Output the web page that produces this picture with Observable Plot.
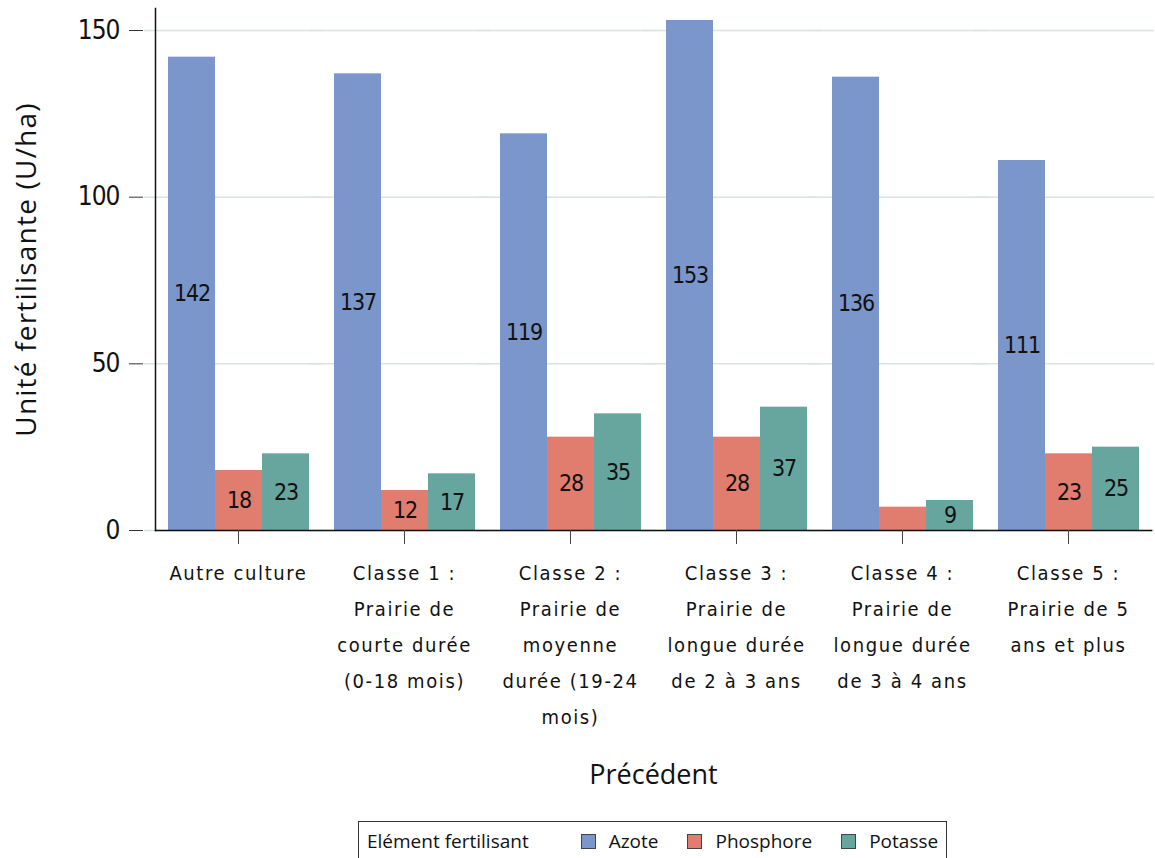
<!DOCTYPE html>
<html lang="fr">
<head>
<meta charset="utf-8">
<script src="https://cdn.jsdelivr.net/npm/d3@7"></script>
<script src="https://cdn.jsdelivr.net/npm/@observablehq/plot@0.6"></script>
<style>
  html, body { margin: 0; padding: 0; background: #fff; }
  body { width: 1155px; height: 858px; overflow: hidden; position: relative; }
  #chart svg { display: block; }
  #chart g[aria-label="y-axis tick label"] text {
    font-family: "DejaVu Sans Condensed", sans-serif;
    font-size: 26px; letter-spacing: -1px; fill: #111;
  }
  #chart g[aria-label="y-axis label"] text {
    font-family: "Open Sans", sans-serif; font-size: 28px; letter-spacing: 1.2px; fill: #111;
  }
  #chart g[aria-label="fx-axis tick label"] text {
    font-family: "DejaVu Sans Condensed", sans-serif;
    font-size: 20px; letter-spacing: 1.6px; fill: #111;
  }
  #chart g[aria-label="fx-axis label"] text {
    font-family: "Open Sans", sans-serif; font-size: 27px; fill: #111;
  }
  #chart g[aria-label="text"] text {
    font-family: "DejaVu Sans Condensed", sans-serif;
    font-size: 23px; letter-spacing: -1.2px; fill: #111;
  }
  #legend {
    position: absolute; left: 358px; top: 821px; width: 589px; height: 44px;
    box-sizing: border-box; border: 1px solid #333; background: #fff;
    display: flex; align-items: flex-start; padding: 6px 0 0 8px;
    font-family: "Open Sans", sans-serif; font-size: 19px; color: #111;
    white-space: nowrap;
  }
  #legend > span { flex: none; }
  #legend .title { margin-right: 52px; }
  #legend .item { display: flex; align-items: center; margin-right: 29px; }
  #legend .swatch { width: 15px; height: 15px; border: 1px solid #444; margin-right: 13px; box-sizing: border-box; }
</style>
</head>
<body>
<div id="chart"></div>
<div id="legend"></div>
<script>
// Précédent cultural classes (x facets) and their axis labels
const categories = ["Autre culture", "Classe 1", "Classe 2", "Classe 3", "Classe 4", "Classe 5"];
const tickLabels = [
  "Autre culture",
  "Classe 1 :\nPrairie de\ncourte durée\n(0-18 mois)",
  "Classe 2 :\nPrairie de\nmoyenne\ndurée (19-24\nmois)",
  "Classe 3 :\nPrairie de\nlongue durée\nde 2 à 3 ans",
  "Classe 4 :\nPrairie de\nlongue durée\nde 3 à 4 ans",
  "Classe 5 :\nPrairie de 5\nans et plus"
];

// Fertilising elements and their colours
const elements = ["Azote", "Phosphore", "Potasse"];
const colors = ["#7b96cb", "#e07d6e", "#66a69f"];

// Units per hectare, one value per category
const azote = [142, 137, 119, 153, 136, 111];
const phosphore = [18, 12, 28, 28, 7, 23];
const potasse = [23, 17, 35, 37, 9, 25];

const yTicks = [0, 50, 100, 150];

const series = [azote, phosphore, potasse];
const rows = categories.flatMap((category, i) =>
  elements.map((element, j) => ({category, element, value: series[j][i]}))
);

const chart = Plot.plot({
  width: 1155,
  height: 816,
  marginLeft: 142,
  marginRight: 0,
  marginTop: 8,
  marginBottom: 286,
  fx: {domain: categories, padding: 0, insetLeft: 12, insetRight: 3},
  x: {domain: elements, paddingInner: 0, paddingOuter: 0.25, axis: null},
  y: {domain: [0, 156.6]},
  color: {domain: elements, range: colors},
  marks: [
    // horizontal gridlines, stretched a little so they meet the y axis line
    Plot.gridY(yTicks, {stroke: "#d9e4e2", strokeOpacity: 1, strokeWidth: 1.5, insetLeft: -11, insetRight: -3}),
    Plot.barY(rows, {fx: "category", x: "element", y: "value", fill: "element"}),
    // value labels centred inside each bar (too-short bars stay unlabelled)
    Plot.text(rows.filter(d => d.value >= 8), {
      fx: "category", x: "element", y: d => d.value / 2, text: d => String(d.value)
    }),
    Plot.frame({anchor: "bottom", facet: "super", stroke: "#111", strokeWidth: 1.5}),
    Plot.frame({anchor: "left", facet: "super", stroke: "#111", strokeWidth: 1.5}),
    Plot.axisY({
      ticks: yTicks,
      dx: -12,
      tickSize: 14,
      tickPadding: 10,
      stroke: "#333",
      label: "Unité fertilisante (U/ha)",
      labelAnchor: "center",
      labelArrow: "none",
      labelOffset: 139
    }),
    Plot.axisFx({
      anchor: "bottom",
      tickSize: 14,
      tickPadding: 10,
      stroke: "#444",
      lineHeight: 1.8,
      tickFormat: d => tickLabels[categories.indexOf(d)],
      label: "Précédent",
      labelAnchor: "center",
      labelArrow: "none",
      labelOffset: 253
    })
  ]
});
document.getElementById("chart").append(chart);

// Legend box under the chart
const legend = document.getElementById("legend");
const title = document.createElement("span");
title.className = "title";
title.textContent = "Elément fertilisant";
legend.append(title);
elements.forEach((e, i) => {
  const item = document.createElement("span");
  item.className = "item";
  const sw = document.createElement("span");
  sw.className = "swatch";
  sw.style.background = colors[i];
  const label = document.createElement("span");
  label.textContent = e;
  item.append(sw, label);
  legend.append(item);
});
</script>
</body>
</html>
